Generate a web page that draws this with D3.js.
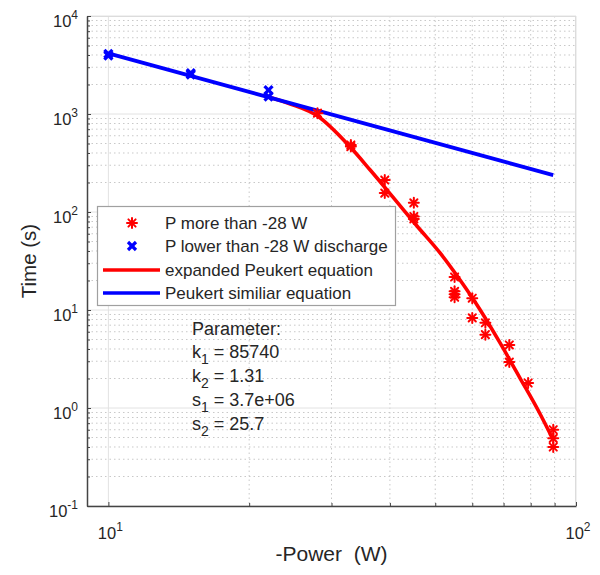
<!DOCTYPE html>
<html>
<head>
<meta charset="utf-8">
<script src="https://cdn.jsdelivr.net/npm/d3@7"></script>
<style>
  html, body { margin: 0; padding: 0; background: #fff; }
  svg { display: block; font-family: "Liberation Sans", Arial, sans-serif; }
</style>
</head>
<body>
<svg id="chart" width="600" height="575"></svg>
<script>
// ---------------- data ----------------
// measured points, P more than -28 W (red asterisks)
const redP = [28, 33, 33, 39, 39, 45, 45, 45, 55, 55, 55, 55, 60, 60, 64, 64, 72, 72, 79, 89.4, 89.4, 89.4];
const redT = [1020, 483, 465, 212, 156, 124, 90, 85, 21.7, 15.5, 14.5, 13.5, 13.2, 8.3, 7.4, 5.6, 4.4, 2.94, 1.8, 0.6, 0.49, 0.4];
// measured points, P lower than -28 W discharge (blue crosses)
const blueP = [10, 10, 15, 15, 22, 22];
const blueT = [4100, 3950, 2620, 2520, 1750, 1500];
// expanded Peukert equation (red curve)
const expP = [22, 24.5, 28, 32.9, 36.3, 40.6, 45.7, 51.2, 56.5, 62.4, 68.8, 75.9, 83.8, 89.4];
const expT = [1491, 1265, 954, 460, 268, 142, 72, 38.2, 20.2, 10.0, 4.61, 2.02, 0.869, 0.472];
// Peukert similiar equation (blue straight line in log-log)
const peuP = [10, 89.4];
const peuT = [4150, 238];
// axis ticks
const xTickExps = [1, 2];
const yTickExps = [-1, 0, 1, 2, 3, 4];
const legendLabels = ["P more than -28 W", "P lower than -28 W discharge", "expanded Peukert equation", "Peukert similiar equation"];
const paramLines = [
  {name: "k", sub: "1", val: " = 85740"},
  {name: "k", sub: "2", val: " = 1.31"},
  {name: "s", sub: "1", val: " = 3.7e+06"},
  {name: "s", sub: "2", val: " = 25.7"}
];

// ---------------- layout ----------------
const L = 87, R = 576, T = 16, B = 506;
const svg = d3.select("#chart");
svg.append("rect").attr("width", 600).attr("height", 575).attr("fill", "#fff");

const x = d3.scaleLog().domain([9, 100]).range([L, R]);
const y = d3.scaleLog().domain([0.1, 10000]).range([B, T]);

const RED = "#ff0000", BLUE = "#0000ff", TXT = "#262626";

// minor / major values
const xMinor = [], yMinor = [];
for (let k = 2; k <= 9; k++) xMinor.push(k * 10);
for (let e = -1; e < 4; e++) for (let k = 2; k <= 9; k++) yMinor.push(k * Math.pow(10, e));
const xMajor = xTickExps.map(e => Math.pow(10, e));
const yMajor = yTickExps.map(e => Math.pow(10, e));

// ---------------- grid ----------------
const grid = svg.append("g");
grid.selectAll(".xm").data(xMinor).join("line")
  .attr("x1", d => x(d)).attr("x2", d => x(d)).attr("y1", T).attr("y2", B)
  .attr("stroke", "#c8c8c8").attr("stroke-width", 1).attr("stroke-dasharray", "1.5,3");
grid.selectAll(".ym").data(yMinor).join("line")
  .attr("y1", d => y(d)).attr("y2", d => y(d)).attr("x1", L).attr("x2", R)
  .attr("stroke", "#c8c8c8").attr("stroke-width", 1).attr("stroke-dasharray", "1.5,3");
grid.selectAll(".xM").data(xMajor).join("line")
  .attr("x1", d => x(d)).attr("x2", d => x(d)).attr("y1", T).attr("y2", B)
  .attr("stroke", "#e2e2e2").attr("stroke-width", 1);
grid.selectAll(".yM").data(yMajor).join("line")
  .attr("y1", d => y(d)).attr("y2", d => y(d)).attr("x1", L).attr("x2", R)
  .attr("stroke", "#e2e2e2").attr("stroke-width", 1);

// box top/right light
svg.append("line").attr("x1", L).attr("x2", R).attr("y1", T + 0.5).attr("y2", T + 0.5).attr("stroke", "#dcdcdc");
svg.append("line").attr("x1", R - 0.5).attr("x2", R - 0.5).attr("y1", T).attr("y2", B).attr("stroke", "#dcdcdc");

// ---------------- axes ----------------
const gx = svg.append("g").attr("transform", `translate(0,${B})`)
  .call(d3.axisBottom(x).tickValues(xMajor.concat(xMinor)).tickSizeInner(-4).tickSizeOuter(0).tickFormat(""));
const gy = svg.append("g").attr("transform", `translate(${L},0)`)
  .call(d3.axisLeft(y).tickValues(yMajor.concat(yMinor)).tickSizeInner(-4).tickSizeOuter(0).tickFormat(""));
[gx, gy].forEach(g => {
  g.select(".domain").attr("stroke", "#444").attr("stroke-width", 1.5);
  g.selectAll(".tick line").attr("stroke", "#444");
});
gy.selectAll(".tick").filter(d => yMinor.includes(d)).select("line").attr("x2", 3);
gx.selectAll(".tick").filter(d => xMinor.includes(d)).select("line").attr("y2", -3);

// tick labels with superscripts
yTickExps.forEach(e => {
  const t = svg.append("text").attr("x", 78).attr("y", y(Math.pow(10, e)) + 11)
    .attr("text-anchor", "end").attr("fill", TXT).attr("font-size", 16.5);
  t.append("tspan").text("10");
  t.append("tspan").attr("dy", -8).attr("font-size", 12).text(String(e));
});
xTickExps.forEach(e => {
  const t = svg.append("text").attr("x", x(Math.pow(10, e)) + 2).attr("y", 539)
    .attr("text-anchor", "middle").attr("fill", TXT).attr("font-size", 16.5);
  t.append("tspan").text("10");
  t.append("tspan").attr("dy", -8).attr("font-size", 12).text(String(e));
});

// axis labels
svg.append("text").attr("x", (L + R) / 2).attr("y", 561).attr("text-anchor", "middle")
  .attr("fill", TXT).attr("font-size", 21).style("white-space", "pre").text("-Power  (W)");
svg.append("text").attr("transform", `translate(36,${(T + B) / 2}) rotate(-90)`).attr("text-anchor", "middle")
  .attr("fill", TXT).attr("font-size", 20.5).text("Time (s)");

// ---------------- curves ----------------
const lineGen = d3.line().x(d => x(d[0])).y(d => y(d[1])).curve(d3.curveMonotoneX);
svg.append("path").datum(expP.map((p, i) => [p, expT[i]])).attr("d", lineGen)
  .attr("fill", "none").attr("stroke", RED).attr("stroke-width", 3.6).attr("stroke-linejoin", "round");
svg.append("path").datum(peuP.map((p, i) => [p, peuT[i]])).attr("d", d3.line().x(d => x(d[0])).y(d => y(d[1])))
  .attr("fill", "none").attr("stroke", BLUE).attr("stroke-width", 3.8);

// ---------------- markers ----------------
function asterisk(sel, cx, cy, r) {
  const g = sel.append("g").attr("transform", `translate(${cx},${cy})`)
    .attr("stroke", RED).attr("stroke-width", 2).attr("stroke-linecap", "round");
  const a = r * 0.72;
  g.append("line").attr("x1", -r).attr("x2", r).attr("y1", 0).attr("y2", 0);
  g.append("line").attr("x1", 0).attr("x2", 0).attr("y1", -r).attr("y2", r);
  g.append("line").attr("x1", -a).attr("x2", a).attr("y1", -a).attr("y2", a);
  g.append("line").attr("x1", -a).attr("x2", a).attr("y1", a).attr("y2", -a);
}
function cross(sel, cx, cy, r) {
  const g = sel.append("g").attr("transform", `translate(${cx},${cy})`)
    .attr("stroke", BLUE).attr("stroke-width", 3.2).attr("stroke-linecap", "butt");
  g.append("line").attr("x1", -r).attr("x2", r).attr("y1", -r).attr("y2", r);
  g.append("line").attr("x1", -r).attr("x2", r).attr("y1", r).attr("y2", -r);
}
const mk = svg.append("g");
redP.forEach((p, i) => asterisk(mk, x(p), y(redT[i]), 5));
blueP.forEach((p, i) => cross(mk, x(p), y(blueT[i]), 4));

// ---------------- legend ----------------
const lg = svg.append("g");
lg.append("rect").attr("x", 97.5).attr("y", 206.5).attr("width", 298).attr("height", 99)
  .attr("fill", "#fff").attr("stroke", "#a0a0a0").attr("stroke-width", 1.2);
const rows = [223, 246, 270, 293];
asterisk(lg, 132, rows[0], 5);
cross(lg, 132, rows[1], 4);
lg.append("line").attr("x1", 103).attr("x2", 160).attr("y1", rows[2]).attr("y2", rows[2]).attr("stroke", RED).attr("stroke-width", 3.6);
lg.append("line").attr("x1", 103).attr("x2", 160).attr("y1", rows[3]).attr("y2", rows[3]).attr("stroke", BLUE).attr("stroke-width", 3.6);
legendLabels.forEach((s, i) => {
  lg.append("text").attr("x", 165).attr("y", rows[i] + 6).attr("fill", TXT).attr("font-size", 17).text(s);
});

// ---------------- parameter text ----------------
svg.append("text").attr("x", 192).attr("y", 335).attr("fill", TXT).attr("font-size", 18).text("Parameter:");
paramLines.forEach((p, i) => {
  const t = svg.append("text").attr("x", 192).attr("y", 358 + i * 24).attr("fill", TXT).attr("font-size", 18);
  t.append("tspan").text(p.name);
  t.append("tspan").attr("dy", 6).attr("font-size", 14).text(p.sub);
  t.append("tspan").attr("dy", -6).text(p.val);
});
</script>
</body>
</html>
